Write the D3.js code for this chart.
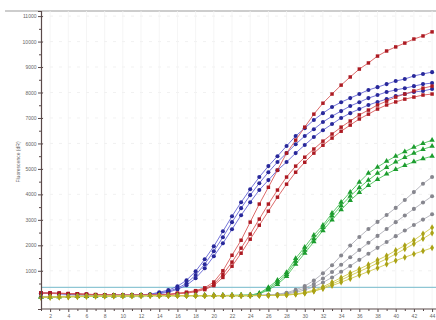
<!DOCTYPE html>
<html>
<head>
<meta charset="utf-8">
<script src="https://cdn.jsdelivr.net/npm/d3@7"></script>
<style>
  html, body { margin: 0; padding: 0; background: #fff; }
  svg { display: block; }
</style>
</head>
<body>
<svg id="chart" width="436" height="320"></svg>
<script>
// Amplification plot: fluorescence (dR) per cycle, one array per well.
const cycles = d3.range(1, 45);

const xTickLabels = d3.range(2, 45, 2);
const yTickLabels = d3.range(1000, 11001, 1000);
const thresholdValue = 350;

const blue1 = [120,120,100,80,80,60,40,40,40,40,40,60,80,160,240,390,630,980,1450,1960,2550,3140,3690,4200,4680,5110,5500,5900,6290,6600,6920,7190,7430,7620,7780,7940,8100,8210,8330,8450,8530,8650,8730,8800];
const blue2 = [110,110,100,90,80,60,50,40,40,40,40,50,70,120,200,310,510,830,1260,1770,2320,2910,3460,3970,4440,4870,5270,5620,5970,6290,6560,6840,7070,7270,7470,7620,7780,7900,8020,8100,8170,8250,8330,8370];
const blue3 = [130,120,110,90,80,70,50,40,40,40,40,50,60,100,160,270,430,710,1100,1570,2080,2630,3180,3690,4170,4560,4950,5270,5620,5940,6250,6520,6760,7000,7190,7350,7510,7630,7740,7860,7940,8020,8060,8140];

const red1 = [140,130,120,110,100,80,70,60,50,50,50,50,50,60,80,120,160,220,330,560,1000,1610,2200,2910,3620,4280,4950,5620,6130,6640,7150,7580,7940,8290,8610,8920,9160,9430,9630,9790,9940,10100,10220,10380];
const red2 = [130,120,120,100,90,80,60,50,50,40,40,50,50,50,70,110,140,200,290,470,860,1340,1890,2440,3030,3620,4170,4680,5110,5460,5780,6090,6370,6640,6880,7120,7310,7510,7660,7820,7940,8060,8170,8250];
const red3 = [120,120,110,100,90,70,60,50,40,40,40,40,50,50,60,100,120,180,260,420,740,1180,1690,2240,2790,3340,3890,4400,4870,5260,5620,5930,6210,6480,6720,6960,7150,7350,7510,7630,7740,7820,7900,7940];

const green1 = [-30,-20,-20,-10,0,0,10,20,20,20,30,30,30,30,30,30,30,30,30,30,30,30,40,40,120,350,630,940,1490,1930,2400,2790,3260,3690,4090,4480,4830,5070,5300,5500,5680,5850,6000,6130];
const green2 = [-20,-20,-10,-10,0,10,10,20,20,20,20,30,30,30,30,30,30,30,30,30,30,40,40,50,100,300,550,860,1380,1810,2260,2700,3150,3560,3930,4260,4560,4830,5060,5270,5450,5620,5770,5890];
const green3 = [-30,-30,-20,-10,-10,0,10,10,20,20,20,20,30,30,30,30,30,30,30,30,30,30,30,40,90,250,470,780,1260,1690,2140,2580,3000,3400,3760,4080,4350,4590,4800,4980,5140,5280,5400,5500];

const grey1 = [-20,-20,-10,-10,0,0,10,10,20,20,20,20,30,30,30,30,30,30,30,30,30,30,30,40,40,50,80,140,250,400,620,900,1220,1600,1990,2330,2640,2920,3190,3470,3780,4090,4420,4680];
const grey2 = [-10,-10,-10,0,0,10,10,20,20,20,20,30,30,30,30,30,30,30,30,30,30,30,30,30,40,50,70,110,200,320,480,700,950,1240,1530,1820,2100,2370,2640,2910,3170,3430,3680,3930];
const grey3 = [-20,-20,-10,0,0,0,10,10,20,20,20,30,30,30,30,30,30,30,30,30,30,30,30,30,30,40,60,90,150,250,370,540,740,960,1190,1430,1670,1900,2130,2360,2580,2800,3010,3220];

const yellow1 = [-40,-30,-30,-20,-10,-10,0,0,10,10,10,20,20,20,20,20,20,20,20,20,20,20,20,20,30,30,40,60,90,150,240,370,550,730,910,1070,1240,1420,1590,1800,1990,2200,2450,2700];
const yellow2 = [-30,-30,-20,-20,-10,0,0,10,10,10,20,20,20,20,20,20,20,20,20,20,20,20,20,30,30,30,40,50,80,120,200,320,480,640,810,970,1130,1300,1470,1660,1860,2060,2260,2480];
const yellow3 = [-40,-40,-30,-20,-20,-10,0,0,0,10,10,10,20,20,20,20,20,20,20,20,20,20,20,20,30,30,40,50,80,120,200,300,420,550,690,830,970,1110,1260,1400,1530,1660,1780,1900];

// Well groups, drawn back to front.
const groups = [
  { wells: [blue1, blue2, blue3], line: "#6464d4", fill: "#28289a", shape: d3.symbolCircle, size: 13 },
  { wells: [red1, red2, red3], line: "#d85a5a", fill: "#ac1a22", shape: d3.symbolSquare, size: 12 },
  { wells: [green1, green2, green3], line: "#4cc45a", fill: "#1c9c2e", shape: d3.symbolTriangle, size: 13 },
  { wells: [grey1, grey2, grey3], line: "#b0b0b8", fill: "#86868e", shape: d3.symbolCircle, size: 13 },
  { wells: [yellow1, yellow2, yellow3], line: "#cfc84e", fill: "#aaa216", shape: d3.symbolDiamond, size: 13 }
];

const svg = d3.select("#chart");
const plotLeft = 41, plotTop = 11, plotBottom = 309, plotRight = 436;

const x = d3.scaleLinear().domain([1, 45]).range([plotLeft, plotLeft + 44 * 9.095]);
const y = d3.scaleLinear().domain([-500, 11200]).range([plotBottom, plotTop]);

// frame line along the top
svg.append("line")
  .attr("x1", 5).attr("x2", plotRight).attr("y1", plotTop).attr("y2", plotTop)
  .attr("stroke", "#bdbdbd").attr("stroke-width", 1.5);

// faint grid
const grid = svg.append("g");
grid.selectAll("line.h").data(yTickLabels).join("line")
  .attr("x1", plotLeft).attr("x2", plotRight)
  .attr("y1", d => y(d)).attr("y2", d => y(d))
  .attr("stroke", "#eeeeee").attr("stroke-width", 0.8)
  .attr("stroke-dasharray", "3,6");
grid.selectAll("line.v").data(xTickLabels).join("line")
  .attr("x1", d => x(d)).attr("x2", d => x(d))
  .attr("y1", plotTop).attr("y2", plotBottom)
  .attr("stroke", "#f2f2f2").attr("stroke-width", 0.8);

// threshold
svg.append("line")
  .attr("x1", plotLeft).attr("x2", plotRight)
  .attr("y1", y(thresholdValue)).attr("y2", y(thresholdValue))
  .attr("stroke", "#8ec6d4").attr("stroke-width", 1.3);

// curves
const line = d3.line().x((d, i) => x(cycles[i])).y(d => y(d));
groups.forEach(g => {
  const layer = svg.append("g");
  g.wells.forEach(w => {
    layer.append("path")
      .attr("d", line(w))
      .attr("fill", "none")
      .attr("stroke", g.line)
      .attr("stroke-width", 0.9);
  });
  const sym = d3.symbol().type(g.shape).size(g.size);
  g.wells.forEach(w => {
    layer.selectAll(null).data(w).join("path")
      .attr("d", sym)
      .attr("transform", (d, i) => `translate(${x(cycles[i])},${y(d)})`)
      .attr("fill", g.fill);
  });
});

// axes
const axisColor = "#5a4a4a";
const font = "Liberation Sans, Arial, sans-serif";

const yAxis = svg.append("g").attr("transform", `translate(${plotLeft},0)`)
  .call(d3.axisLeft(y).tickValues(yTickLabels).tickSize(3).tickPadding(1.5)
    .tickFormat(d3.format("d")));
yAxis.select(".domain").attr("stroke", axisColor).attr("stroke-width", 1.2);
yAxis.selectAll(".tick line").attr("stroke", axisColor).attr("x2", -3).attr("x1", 2);
yAxis.selectAll("text").attr("font-size", 5).attr("font-family", font).attr("fill", "#666");
const yMinor = svg.append("g").attr("transform", `translate(${plotLeft},0)`)
  .call(d3.axisLeft(y).tickValues(d3.range(0, 11001, 500).filter(v => v % 1000 !== 0 || v === 0))
    .tickSize(2).tickFormat(""));
yMinor.select(".domain").remove();
yMinor.selectAll(".tick line").attr("stroke", axisColor);

const xAxis = svg.append("g").attr("transform", `translate(0,${plotBottom})`)
  .call(d3.axisBottom(x).tickValues(xTickLabels).tickSize(3).tickPadding(2)
    .tickFormat(d3.format("d")));
xAxis.select(".domain").attr("stroke", axisColor).attr("stroke-width", 1.2)
  .attr("d", `M${plotLeft},0H${plotRight}`);
xAxis.selectAll(".tick line").attr("stroke", axisColor);
xAxis.selectAll("text").attr("font-size", 5).attr("font-family", font).attr("fill", "#666");
const xMinor = svg.append("g").attr("transform", `translate(0,${plotBottom})`)
  .call(d3.axisBottom(x).tickValues(cycles.filter(c => c % 2 === 1)).tickSize(2).tickFormat(""));
xMinor.select(".domain").remove();
xMinor.selectAll(".tick line").attr("stroke", axisColor);

// axis title
svg.append("text")
  .attr("transform", `translate(20,162) rotate(-90)`)
  .attr("text-anchor", "middle")
  .attr("font-size", 5)
  .attr("font-family", font)
  .attr("fill", "#666")
  .text("Fluorescence (dR)");
</script>
</body>
</html>
